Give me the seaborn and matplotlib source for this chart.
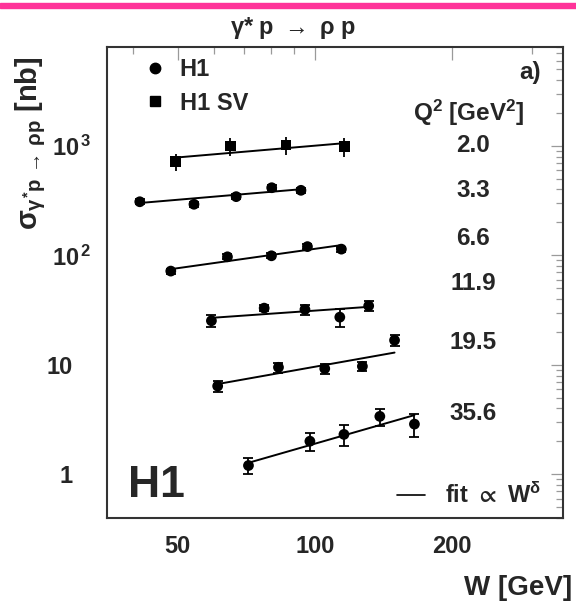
import numpy as np
import pandas as pd
import matplotlib
matplotlib.use("Agg")
import matplotlib.pyplot as plt
import seaborn as sns
from matplotlib.lines import Line2D
from matplotlib.patches import Rectangle
from matplotlib.ticker import FixedLocator, NullFormatter
from matplotlib.transforms import ScaledTranslation

# ---------------- data ----------------
q2_values = ["2.0", "3.3", "6.6", "11.9", "19.5", "35.6"]
samples = ["H1 SV", "H1", "H1", "H1", "H1", "H1"]

w_2p0 = [49.5, 65.2, 86.4, 116.0]
sig_2p0 = [718, 1000, 1020, 985]
err_2p0 = [130, 190, 190, 185]

w_3p3 = [41.3, 54.3, 67.2, 80.4, 93.2]
sig_3p3 = [309, 293, 344, 415, 393]
err_3p3 = [15, 15, 18, 22, 22]

w_6p6 = [48.3, 64.3, 80.3, 96.3, 114.3]
sig_6p6 = [71.9, 97.1, 99.2, 120.3, 114.1]
err_6p6 = [4, 5, 5, 6, 6]

w_11p9 = [59.3, 77.4, 95.1, 113.4, 131.2]
sig_11p9 = [25.3, 33.0, 32.1, 27.3, 34.6]
err_11p9 = [3.3, 2.0, 3.5, 5.0, 3.6]

w_19p5 = [61.2, 83.2, 105.1, 127.1, 149.5]
sig_19p5 = [6.41, 9.51, 9.25, 9.71, 16.8]
err_19p5 = [0.7, 1.0, 1.0, 1.0, 2.0]

w_35p6 = [71.5, 97.5, 115.8, 138.8, 165.3]
sig_35p6 = [1.206, 2.01, 2.32, 3.39, 2.88]
err_35p6 = [0.2, 0.38, 0.5, 0.6, 0.67]

# fit lines (sigma ~ W^delta), end points
fit_w = [[49.5, 116.0], [41.3, 93.2], [48.3, 114.3], [59.3, 131.2], [61.2, 149.5], [71.5, 165.3]]
fit_sig = [[782, 1059], [301, 402], [74.9, 124.2], [26.9, 33.9], [6.69, 12.96], [1.277, 3.48]]

x_ticks = [50, 100, 200]
x_ticklabels = ["50", "100", "200"]
y_ticks = [1, 10, 100, 1000]
y_ticklabels = ["1", "10", r"10$^{\mathbf{\,2}}$", r"10$^{\mathbf{\,3}}$"]

# ---------------- build tables ----------------
w_all = [w_2p0, w_3p3, w_6p6, w_11p9, w_19p5, w_35p6]
s_all = [sig_2p0, sig_3p3, sig_6p6, sig_11p9, sig_19p5, sig_35p6]
e_all = [err_2p0, err_3p3, err_6p6, err_11p9, err_19p5, err_35p6]
rows = []
for q, smp, ws, ss, es in zip(q2_values, samples, w_all, s_all, e_all):
    for w, s, e in zip(ws, ss, es):
        rows.append(dict(Q2=q, sample=smp, W=w, sigma=s, err=e))
df = pd.DataFrame(rows)
frows = []
for q, fw, fs in zip(q2_values, fit_w, fit_sig):
    for w, s in zip(fw, fs):
        frows.append(dict(Q2=q, W=w, sigma=s))
fdf = pd.DataFrame(frows)

# ---------------- style ----------------
sns.set_theme(style="white")
plt.rcParams["font.family"] = ["Liberation Sans", "DejaVu Sans"]
plt.rcParams["font.weight"] = "bold"
plt.rcParams["mathtext.fontset"] = "custom"
plt.rcParams["mathtext.rm"] = "Liberation Sans"
plt.rcParams["mathtext.it"] = "Liberation Sans"
plt.rcParams["mathtext.bf"] = "Liberation Sans:bold"
plt.rcParams["mathtext.sf"] = "Liberation Sans:bold"
plt.rcParams["mathtext.fallback"] = "stixsans"

W_PX, H_PX = 576, 612
fig = plt.figure(figsize=(W_PX / 100, H_PX / 100), dpi=100)
ax = fig.add_axes([107 / W_PX, 1 - 518 / H_PX, (563 - 107) / W_PX, (518 - 47) / H_PX])
ax.set_xscale("log")
ax.set_yscale("log")

# fit lines
sns.lineplot(data=fdf, x="W", y="sigma", units="Q2", estimator=None, color="black",
             lw=1.4, sort=False, ax=ax, legend=False)

# error bars
for smp, cap in [("H1", 3.5), ("H1 SV", 0)]:
    d = df[df["sample"] == smp]
    ax.errorbar(d["W"], d["sigma"], yerr=d["err"], fmt="none", ecolor="black",
                elinewidth=1.3, capsize=cap, capthick=1.3, zorder=2)

# markers
sns.scatterplot(data=df, x="W", y="sigma", style="sample",
                markers={"H1": "o", "H1 SV": "s"}, color="black", s=60,
                linewidth=0, legend=False, ax=ax, zorder=3)

ax.set_xlim(35, 350)
ax.set_ylim(0.4, 8000)
ax.set_xlabel("")
ax.set_ylabel("")

# ticks
ax.xaxis.set_major_locator(FixedLocator(x_ticks))
ax.set_xticklabels(x_ticklabels)
ax.xaxis.set_minor_locator(FixedLocator([40, 60, 70, 80, 90, 300]))
ax.xaxis.set_minor_formatter(NullFormatter())
ax.yaxis.set_major_locator(FixedLocator(y_ticks))
ax.set_yticklabels(y_ticklabels)
ax.yaxis.set_minor_locator(FixedLocator([m * 10.0 ** k for k in range(-1, 4) for m in range(2, 10)]))
ax.yaxis.set_minor_formatter(NullFormatter())
ax.tick_params(which="both", direction="in", top=True, right=True, color="#9a9a9a", width=0.9)
ax.tick_params(which="major", length=9)
ax.tick_params(which="minor", length=5)
ax.tick_params(axis="x", which="major", labelsize=17, pad=12)
ax.tick_params(axis="y", which="major", labelsize=17, pad=11)
for lab in ax.get_xticklabels() + ax.get_yticklabels():
    lab.set_fontweight("bold")
# shift plain "1" and "10" labels left so that superscripted labels stick out
for tick in ax.yaxis.get_major_ticks()[:2]:
    tick.label1.set_transform(tick.label1.get_transform() +
                              ScaledTranslation(-19 / 100, 0, fig.dpi_scale_trans))
for sp in ax.spines.values():
    sp.set_color("#333333")
    sp.set_linewidth(1.5)

# ---------------- texts ----------------
def axpos(px, py):
    return (px - 107) / 456, (518 - py) / 471

fs_lab = 17.5
ax.text(*axpos(541, 79), "a)", ha="right", va="baseline", fontsize=fs_lab, fontweight="bold", transform=ax.transAxes)
ax.text(*axpos(469, 121), r"Q$^{\mathbf{2}}$ [GeV$^{\mathbf{2}}$]", ha="center", va="baseline",
        fontsize=fs_lab, fontweight="bold", transform=ax.transAxes)
q_base = [152, 196.7, 245, 290, 349.3, 420]
for q, b in zip(q2_values, q_base):
    ax.text(*axpos(473, b), q, ha="center", va="baseline", fontsize=fs_lab,
            fontweight="bold", transform=ax.transAxes)
ax.text(*axpos(156, 497), "H1", ha="center", va="baseline", fontsize=32,
        fontweight="heavy", transform=ax.transAxes)

# legends
h_pts = [Line2D([], [], ls="none", marker="o", color="black", markersize=7.5),
         Line2D([], [], ls="none", marker="s", color="black", markersize=7.5)]
leg1 = ax.legend(h_pts, ["H1", "H1 SV"], loc="upper left", bbox_to_anchor=axpos(143, 58),
                 frameon=False, handlelength=1.0, handletextpad=0.55,
                 labelspacing=0.45, borderpad=0, borderaxespad=0,
                 prop=dict(weight="bold", size=17))
ax.add_artist(leg1)
h_fit = [Line2D([], [], color="black", lw=1.2)]
leg2 = ax.legend(h_fit, [r"fit $\propto$ W$^{\delta}$"], loc="center left",
                 bbox_to_anchor=axpos(397, 495), frameon=False, handlelength=1.2,
                 handletextpad=0.85, borderpad=0, borderaxespad=0,
                 prop=dict(weight="bold", size=17))

# axis titles
fig.text(572 / W_PX, 1 - 588 / H_PX, "W [GeV]", ha="right", va="center",
         fontsize=20, fontweight="bold")
fig.text(31 / W_PX, 1 - 143 / H_PX,
         r"$\sigma_{\gamma^{*}\mathbf{p}\,\rightarrow\,\rho\mathbf{p}}$ [nb]",
         rotation=90, ha="center", va="center", fontsize=21, fontweight="bold")
fig.text(293 / W_PX, 1 - 28 / H_PX, r"$\gamma$* $\mathbf{p}\ \rightarrow\ \rho\ \mathbf{p}$",
         ha="center", va="center", fontsize=17)

# pink band at the top
fig.patches.append(Rectangle((0, 1 - 8 / H_PX), 1, 5 / H_PX, transform=fig.transFigure,
                             color="#FF3399", zorder=0))

fig.savefig("out.png", dpi=100)
